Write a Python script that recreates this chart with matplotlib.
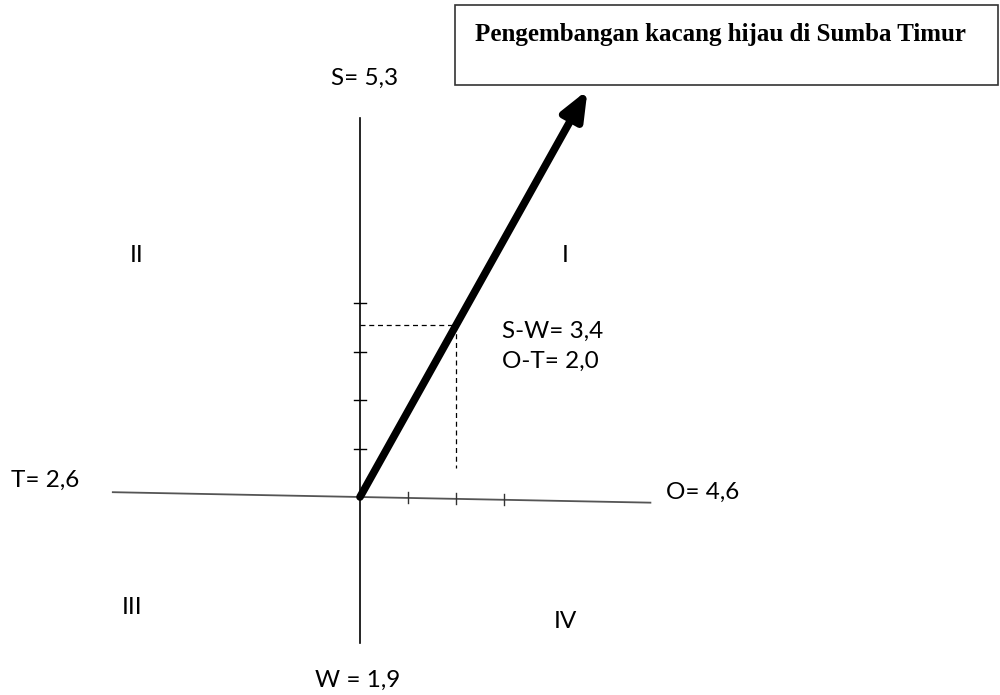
import matplotlib

matplotlib.use("Agg")
import matplotlib.pyplot as plt
from matplotlib.patches import Rectangle

# SWOT scores
strength = 5.3
weakness = 1.9
opportunity = 4.6
threat = 2.6
sw_diff = 3.4
ot_diff = 2.0
title = "Pengembangan kacang hijau di Sumba Timur"
quadrants = ["I", "II", "III", "IV"]

# pixel layout: origin at (360, 497), ~48 px per unit in x, ~50 px in y
ox, oy = 360, 497
sx, sy = 48.0, 50.5

fig = plt.figure(figsize=(10, 6.95), dpi=100)
ax = fig.add_axes([0, 0, 1, 1])
ax.set_xlim(-ox / sx, (1000 - ox) / sx)
ax.set_ylim(-(695 - oy) / sy, oy / sy)
ax.axis("off")

font = ["Lato", "DejaVu Sans"]
fs = 17.5

# vertical axis
ax.plot([0, 0], [-2.9, 7.5], color="black", lw=1.2)
for t in range(1, 5):
    ax.plot([-0.12, 0.12], [t * 0.96, t * 0.96], color="black", lw=1.0)

# horizontal axis (slightly tilted as in the scan)
tilt = -0.0185
x0, x1 = -5.15, 6.05
ax.plot([x0, x1], [x0 * tilt, x1 * tilt], color="#555555", lw=1.3)
for t in range(1, 4):
    ax.plot([t, t], [t * tilt - 0.1, t * tilt + 0.12], color="#333333", lw=1.0)

# dashed guides to the strategy point
ax.plot([0, ot_diff], [sw_diff, sw_diff], color="black", lw=0.9, ls=(0, (4, 3)))
ax.plot([ot_diff, ot_diff], [sw_diff, 0.58], color="black", lw=0.9, ls=(0, (4, 3)))

# strategy arrow, extended along the (O-T, S-W) direction
k = 2.37
ax.annotate("", xy=(ot_diff * k, sw_diff * k), xytext=(0, 0),
            arrowprops=dict(arrowstyle="-|>,head_length=1.7,head_width=0.7",
                            color="black", lw=5.5, shrinkA=0, shrinkB=0))

# axis end labels
ax.text(0.1, oy / sy - 78 / sy, f"S= {strength:.1f}".replace(".", ","),
        ha="center", va="center", fontsize=fs, family=font)
ax.text(-0.05, -(680 - oy) / sy, f"W = {weakness:.1f}".replace(".", ","),
        ha="center", va="center", fontsize=fs, family=font)
ax.text(-(360 - 45) / sx, (oy - 480) / sy, f"T= {threat:.1f}".replace(".", ","),
        ha="center", va="center", fontsize=fs, family=font)
ax.text((703 - ox) / sx, (oy - 492) / sy, f"O= {opportunity:.1f}".replace(".", ","),
        ha="center", va="center", fontsize=fs, family=font)

# result labels
ax.text((502 - ox) / sx, (oy - 331) / sy, f"S-W= {sw_diff:.1f}".replace(".", ","),
        ha="left", va="center", fontsize=fs, family=font)
ax.text((502 - ox) / sx, (oy - 361) / sy, f"O-T= {ot_diff:.1f}".replace(".", ","),
        ha="left", va="center", fontsize=fs, family=font)

# quadrant numerals
quad_pos = [(565, 256), (137, 256), (132, 608), (565, 622)]
for q, (px, py) in zip(quadrants, quad_pos):
    ax.text((px - ox) / sx, (oy - py) / sy, q, ha="center", va="center",
            fontsize=fs, family=font)

# title box
bx0, by0, bx1, by1 = 455, 5, 998, 85
ax.add_patch(Rectangle(((bx0 - ox) / sx, (oy - by1) / sy), (bx1 - bx0) / sx,
                       (by1 - by0) / sy, fill=False, edgecolor="#333333", lw=1.2))
ax.text((475 - ox) / sx, (oy - 34) / sy, title, ha="left", va="center",
        fontsize=18, fontweight="bold", family=["Liberation Serif", "DejaVu Serif"])

fig.savefig("out.png", dpi=100, facecolor="white")
